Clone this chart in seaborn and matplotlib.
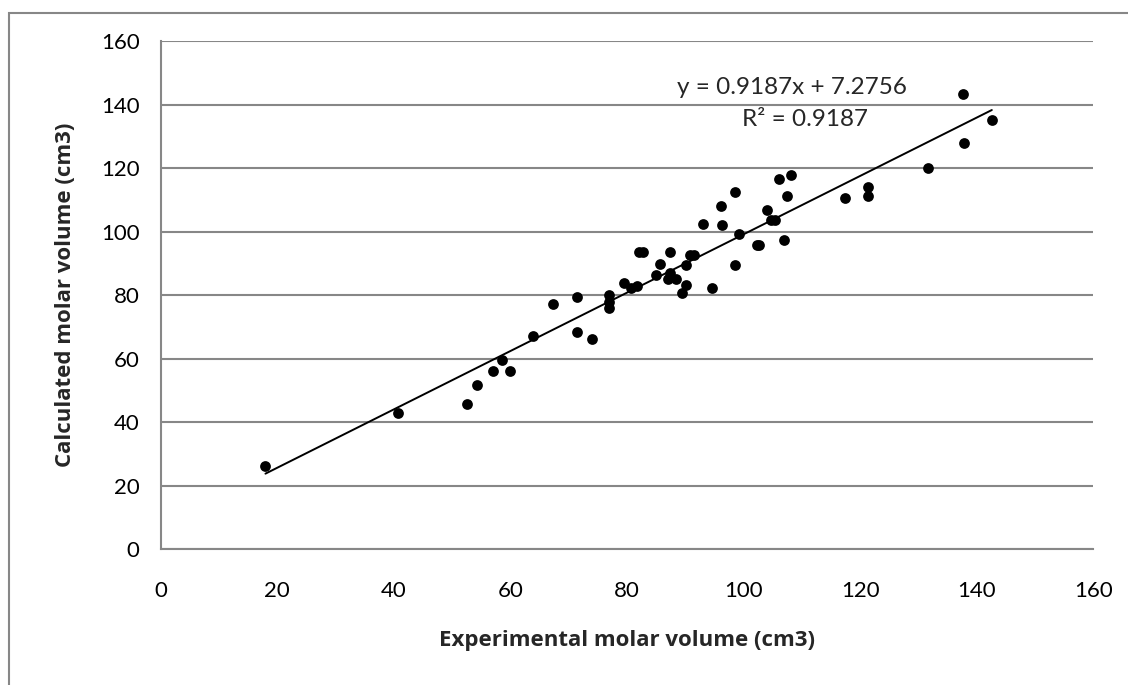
import numpy as np
import pandas as pd
import matplotlib
matplotlib.use("Agg")
import matplotlib.pyplot as plt
from matplotlib.patches import Rectangle
import seaborn as sns

# --- Data ---
experimental = [
    18.0, 40.7, 52.6, 54.3, 57.1, 58.5, 60.0, 63.9, 67.3, 71.4,
    71.5, 74.0, 76.9, 76.9, 76.9, 79.5, 80.7, 81.8, 82.0, 82.7,
    85.0, 85.7, 87.4, 87.4, 87.0, 88.4, 89.4, 90.1, 90.1, 90.8,
    91.5, 94.6, 93.1, 96.1, 96.4, 98.5, 98.6, 99.3, 102.3, 102.7,
    104.0, 104.7, 105.4, 106.1, 106.9, 107.5, 108.2, 117.5, 121.3, 121.3,
    131.7, 137.7, 137.9, 142.6,
]
calculated = [
    26.2, 43.0, 45.6, 51.7, 56.2, 59.6, 56.2, 67.2, 77.3, 79.3,
    68.4, 66.3, 79.9, 78.0, 76.1, 83.8, 82.2, 83.0, 93.5, 93.5,
    86.4, 89.7, 93.5, 87.1, 85.1, 85.1, 80.6, 83.2, 89.4, 92.8,
    92.8, 82.2, 102.3, 108.0, 102.2, 112.5, 89.6, 99.1, 95.9, 95.9,
    106.7, 103.6, 103.6, 116.5, 97.3, 111.1, 117.8, 110.6, 114.1, 111.1,
    119.9, 143.2, 127.8, 135.1,
]
slope = 0.9187
intercept = 7.2756
r_squared = 0.9187

x_ticks = [0, 20, 40, 60, 80, 100, 120, 140, 160]
y_ticks = [0, 20, 40, 60, 80, 100, 120, 140, 160]

df = pd.DataFrame({"exp": experimental, "calc": calculated})

# --- Styling ---
sns.set_theme(style="white")
plt.rcParams["font.family"] = ["Lato", "DejaVu Sans"]
grey = "#878787"
label_font = ["Open Sans", "DejaVu Sans"]

fig = plt.figure(figsize=(11.28, 6.85), dpi=100)
ax = fig.add_axes([0.1423, 0.1981, 0.9692 - 0.1423, 0.9401 - 0.1981])

# outer chart border (only top/left visible in the crop)
fig.patches.append(Rectangle((8.5 / 1128, -0.5), 2.0, 1.5 - 12.7 / 685,
                             transform=fig.transFigure, fill=False,
                             edgecolor=grey, linewidth=1.5))

sns.scatterplot(data=df, x="exp", y="calc", ax=ax, color="black",
                s=60, edgecolor="black", linewidth=0, zorder=3)

# linear trend line from the displayed equation
line_x = np.array([min(experimental), max(experimental)])
sns.lineplot(x=line_x, y=slope * line_x + intercept, ax=ax,
             color="black", linewidth=1.4, zorder=2)

ax.set_xlim(0, 160)
ax.set_ylim(0, 160)
ax.set_xticks(x_ticks)
ax.set_yticks(y_ticks)
ax.yaxis.grid(True, color=grey, linewidth=1.5)
ax.xaxis.grid(False)
ax.set_axisbelow(True)

for side in ["top", "right"]:
    ax.spines[side].set_visible(False)
for side in ["left", "bottom"]:
    ax.spines[side].set_color(grey)
    ax.spines[side].set_linewidth(1.5)

ax.tick_params(axis="both", direction="out", length=6, width=1.5,
               color=grey, labelsize=16, labelcolor="black")
ax.tick_params(axis="x", pad=17)
ax.tick_params(axis="y", pad=9)

ax.set_xlabel("Experimental molar volume (cm3)", fontsize=16,
              fontweight="bold", family=label_font, labelpad=21)
ax.set_ylabel("Calculated molar volume (cm3)", fontsize=16,
              fontweight="bold", family=label_font, labelpad=18)

fig.text(792 / 1128, 1 - 88 / 685, f"y = {slope}x + {intercept}",
         ha="center", va="center", fontsize=17.5)
fig.text(805 / 1128, 1 - 120 / 685, f"R² = {r_squared}",
         ha="center", va="center", fontsize=17.5)

fig.savefig("out.png", dpi=100)
